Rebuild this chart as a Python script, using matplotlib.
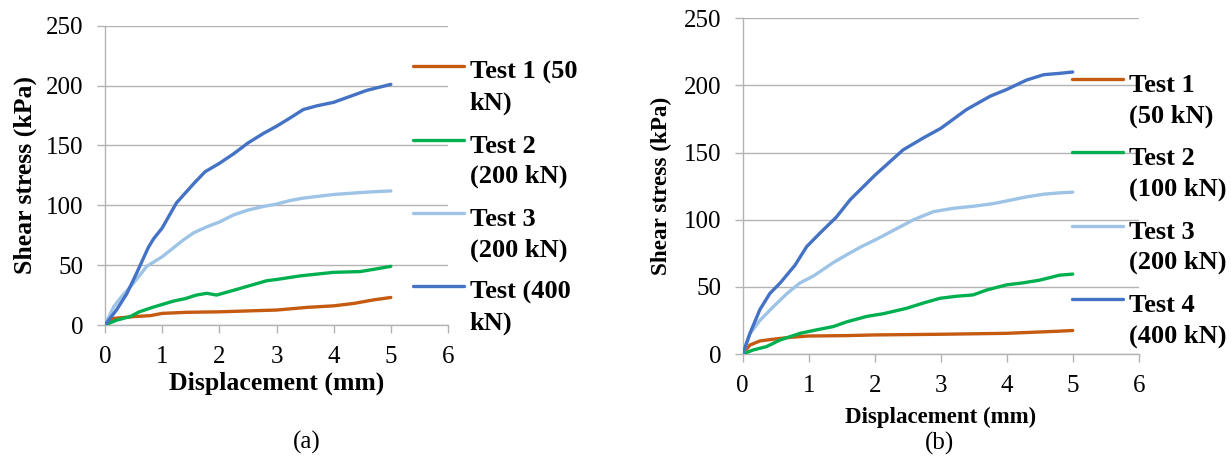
import numpy as np
import matplotlib
matplotlib.use('Agg')
import matplotlib.pyplot as plt
from matplotlib.legend_handler import HandlerLine2D

# ---------------- data ----------------
labels_a = ["Test 1 (50\nkN)", "Test 2\n(200 kN)", "Test 3\n(200 kN)", "Test (400\nkN)"]
labels_b = ["Test 1\n(50 kN)", "Test 2\n(100 kN)", "Test 3\n(200 kN)", "Test 4\n(400 kN)"]
colors = ['#C55A11', '#00B050', '#9DC3E6', '#4472C4']

a1_x = [0, 0.15, 0.5, 0.79, 1.0, 1.43, 2.0, 3.0, 3.53, 4.0, 4.35, 4.7, 5.0]
a1_y = [0, 5.5, 7, 7.8, 9.7, 10.6, 11, 12.5, 14.7, 16, 18, 21, 23]
a2_x = [0, 0.2, 0.44, 0.6, 0.85, 1.2, 1.4, 1.6, 1.78, 1.95, 2.25, 2.54, 2.83, 3.0, 3.41, 4.0, 4.46, 4.7, 5.0]
a2_y = [0, 4, 7, 11, 15, 20, 22, 25, 26.5, 25, 29, 33, 37, 38, 41, 44, 44.6, 46.5, 49]
a3_x = [0, 0.15, 0.26, 0.5, 0.73, 1.0, 1.37, 1.55, 1.78, 2.0, 2.25, 2.5, 2.77, 3.0, 3.24, 3.47, 4.0, 4.58, 5.0]
a3_y = [0, 15, 22, 35, 49, 57, 71, 77, 82, 86, 92, 96, 99, 101, 104, 106, 109, 111, 112]
a4_x = [0, 0.2, 0.38, 0.55, 0.76, 0.85, 1.0, 1.25, 1.55, 1.75, 2.0, 2.25, 2.5, 2.77, 3.0, 3.24, 3.47, 3.7, 4.0, 4.29, 4.58, 5.0]
a4_y = [0, 12.5, 26, 43, 65, 72, 81, 102, 118, 128, 135, 143, 152, 160, 166, 173, 180, 183, 186, 191, 196, 201]

b1_x = [0, 0.11, 0.26, 0.46, 0.72, 1.0, 1.58, 2.0, 3.0, 4.0, 4.8, 5.0]
b1_y = [0, 6.7, 9.7, 11, 12.4, 13.4, 13.7, 14.2, 14.7, 15.4, 17, 17.5]
b2_x = [0, 0.16, 0.36, 0.57, 0.87, 1.12, 1.37, 1.58, 1.88, 2.13, 2.48, 2.74, 2.99, 3.24, 3.49, 3.7, 4.0, 4.25, 4.5, 4.8, 5.0]
b2_y = [0, 3, 5.5, 10.5, 15.4, 18, 20.4, 24, 28, 30, 34, 38, 41.5, 43, 44, 47.7, 51.5, 53, 55, 58.7, 59.5]
b3_x = [0, 0.11, 0.26, 0.46, 0.67, 0.87, 1.07, 1.37, 1.58, 1.8, 2.03, 2.28, 2.59, 2.89, 3.19, 3.49, 3.8, 4.0, 4.3, 4.56, 4.8, 5.0]
b3_y = [0, 15, 25, 35, 45, 53, 58, 68, 74, 80, 85.5, 92, 100, 106, 108.5, 110, 112, 114, 117, 119, 120, 120.5]
b4_x = [0, 0.11, 0.26, 0.41, 0.57, 0.79, 0.97, 1.17, 1.42, 1.63, 2.0, 2.43, 2.74, 3.0, 3.39, 3.75, 4.0, 4.3, 4.56, 4.8, 5.0]
b4_y = [0, 15.4, 33, 45, 53, 66, 80, 90, 102, 115, 133, 152, 161, 168, 182, 192, 197, 204, 208, 209, 210]

series_a = [(a1_x, a1_y), (a2_x, a2_y), (a3_x, a3_y), (a4_x, a4_y)]
series_b = [(b1_x, b1_y), (b2_x, b2_y), (b3_x, b3_y), (b4_x, b4_y)]

x_ticks = [0, 1, 2, 3, 4, 5, 6]
y_ticks = [0, 50, 100, 150, 200, 250]

# ---------------- style ----------------
SERIF = ['Liberation Serif', 'DejaVu Serif']
plt.rcParams['font.family'] = SERIF
GRID = '#B3B3B3'
FS = 18
LEG_FS = 19


class FirstLineHandler(HandlerLine2D):
    """Place the legend line next to the first line of a two-line label."""
    def __init__(self, shift, **kw):
        super().__init__(**kw)
        self.shift = shift

    def create_artists(self, legend, orig_handle, xdescent, ydescent,
                       width, height, fontsize, trans):
        arts = super().create_artists(legend, orig_handle, xdescent, ydescent,
                                      width, height, fontsize, trans)
        for a in arts:
            a.set_ydata(np.asarray(a.get_ydata()) + self.shift)
        return arts


W, H = 1231, 461
fig = plt.figure(figsize=(W / 100, H / 100), dpi=100)


def make_panel(rect, series, labels, xlab_fs, ylab_fs, xlab_y, ylab_x, leg_anchor):
    ax = fig.add_axes(rect)
    handles = []
    for (xs, ys), c in zip(series, colors):
        h, = ax.plot(xs, ys, color=c, lw=2.4, solid_joinstyle='round',
                     solid_capstyle='round', zorder=3)
        handles.append(h)
    ax.set_xlim(0, 6)
    ax.set_ylim(0, 250)
    ax.set_xticks(x_ticks)
    ax.set_yticks(y_ticks)
    ax.yaxis.grid(True, color=GRID, lw=1.0, zorder=0)
    ax.set_axisbelow(True)
    for s in ['top', 'right']:
        ax.spines[s].set_visible(False)
    for s in ['left', 'bottom']:
        ax.spines[s].set_color(GRID)
        ax.spines[s].set_linewidth(1.0)
    ax.tick_params(axis='both', colors=GRID, labelcolor='black',
                   labelsize=FS, length=5.5, width=1.0, direction='out')
    ax.tick_params(axis='x', pad=9.5)
    ax.tick_params(axis='y', pad=10)
    ax.set_xlabel('Displacement (mm)', fontsize=xlab_fs, fontweight='bold', va='center')
    ax.xaxis.set_label_coords(0.5, xlab_y)
    ax.set_ylabel('Shear stress (kPa)', fontsize=ylab_fs, fontweight='bold', va='center')
    ax.yaxis.set_label_coords(ylab_x, 0.5)
    hm = {h: FirstLineHandler(shift=15.5) for h in handles}
    leg = fig.legend(handles, labels, loc='upper left',
                     bbox_to_anchor=leg_anchor, bbox_transform=fig.transFigure,
                     frameon=False, handlelength=1.95, handletextpad=0.2,
                     labelspacing=0.75, borderpad=0, borderaxespad=0,
                     handler_map=hm, prop={'family': SERIF, 'weight': 'bold', 'size': LEG_FS})
    for t in leg.get_texts():
        t.set_linespacing(1.4)
    return ax


# panel (a)
ax_a = make_panel([105 / W, 1 - 325 / H, 343 / W, 299.3 / H], series_a, labels_a,
                  18.5, 18.5, -0.194, -0.232, (413 / W, 1 - 61 / H))
# panel (b)
ax_b = make_panel([742.7 / W, 1 - 354 / H, 396 / W, 335.7 / H], series_b, labels_b,
                  16.5, 16.7, -0.188, -0.204, (1072 / W, 1 - 74 / H))

fig.text(307 / W, 1 - 442 / H, '(a)', ha='center', va='center', fontsize=FS)
fig.text(940 / W, 1 - 443 / H, '(b)', ha='center', va='center', fontsize=FS)

fig.savefig('out.png', dpi=100)
